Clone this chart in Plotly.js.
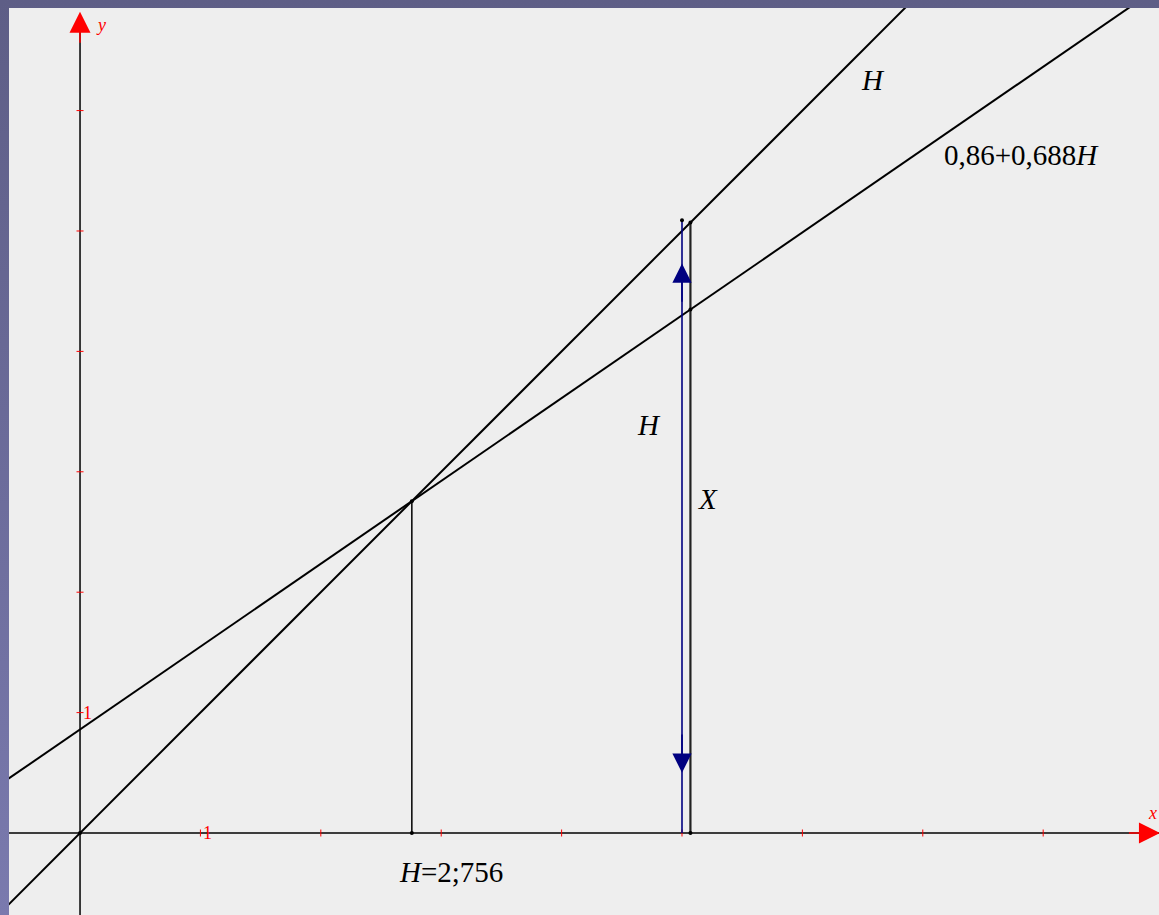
<!DOCTYPE html>
<html>
<head>
<meta charset="utf-8">
<script src="https://cdn.plot.ly/plotly-3.0.1.min.js"></script>
<style>
  html, body { margin: 0; padding: 0; }
  body {
    width: 1159px; height: 915px; overflow: hidden;
    background: linear-gradient(180deg, #5e5e86 0%, #6a6a98 45%, #7a7aae 100%);
  }
  #chart { width: 1159px; height: 915px; }
</style>
</head>
<body>
<div id="chart"></div>
<script>
// Consumption function X = a + b*H against the 45° line X = H
const intercept = 0.86;
const slope = 0.688;
const hSpan = [-0.6, 9.2];          // H values spanned by both lines
const hEquilibrium = 2.756;          // crossing point of the two lines
const hArrow = 5.0;                  // blue double arrow (income H)
const hArrowTop = 5.09;
const hX = 5.07;
const xTicks = [1, 2, 3, 4, 5, 6, 7, 8];
const yTicks = [1, 2, 3, 4, 5, 6];

const consumption = h => intercept + slope * h;

const black = '#000000';
const red = '#ff0000';
const navy = '#000080';
const serif = '"Liberation Serif", "DejaVu Serif", serif';

const traces = [
  // axes
  { x: [hSpan[0], 9.0], y: [0, 0], mode: 'lines', line: { color: black, width: 1.5 } },
  { x: [0, 0], y: [-0.7, 6.8], mode: 'lines', line: { color: black, width: 1.5 } },
  // red tick marks
  { x: xTicks, y: xTicks.map(() => 0), mode: 'markers',
    marker: { symbol: 'line-ns', size: 5, line: { color: red, width: 1 } } },
  { x: yTicks.map(() => 0), y: yTicks, mode: 'markers',
    marker: { symbol: 'line-ew', size: 5, line: { color: red, width: 1 } } },
  // 45° line
  { x: hSpan, y: hSpan, mode: 'lines', line: { color: black, width: 2 } },
  // consumption line
  { x: hSpan, y: hSpan.map(consumption), mode: 'lines', line: { color: black, width: 2 } },
  // equilibrium drop line
  { x: [hEquilibrium, hEquilibrium], y: [0, hEquilibrium], mode: 'lines+markers',
    line: { color: black, width: 1.5 }, marker: { color: black, size: 4 } },
  // income H as a blue vertical
  { x: [hArrow, hArrow], y: [0, hArrowTop], mode: 'lines',
    line: { color: navy, width: 1.6 } },
  { x: [hArrow], y: [hArrowTop], mode: 'markers', marker: { color: black, size: 4 } },
  // consumption X at that income
  { x: [hX, hX], y: [0, hX], mode: 'lines', line: { color: '#222222', width: 2.2 } },
  { x: [hX, hX, hX], y: [0, consumption(hX), hX], mode: 'markers',
    marker: { color: black, size: 4 } },
  // origin
  { x: [0], y: [0], mode: 'markers', marker: { color: black, size: 4 } }
];

function arrow(x, y, ax, ay, color, size, width) {
  return { x, y, ax, ay, xref: 'x', yref: 'y', axref: 'x', ayref: 'y',
    text: '', showarrow: true, arrowhead: 2, arrowsize: size, arrowwidth: width,
    arrowcolor: color };
}

function label(x, y, text, size, color) {
  return { x, y, xref: 'x', yref: 'y', text, showarrow: false,
    font: { family: serif, size, color } };
}

const annotations = [
  // axis arrow heads
  arrow(0, 6.82, 0, 6.55, red, 2.8, 1.5),
  arrow(8.97, 0, 8.7, 0, red, 2.8, 1.5),
  // double arrow heads on the blue vertical
  arrow(hArrow, 4.73, hArrow, 4.40, navy, 2.4, 1.6),
  arrow(hArrow, 0.50, hArrow, 0.83, navy, 2.4, 1.6),
  // axis names and unit labels
  label(0.17, 6.71, '<i>y</i>', 18, red),
  label(8.91, 0.17, '<i>x</i>', 18, red),
  label(1.06, 0.0, '1', 18, red),
  label(0.06, 1.0, '1', 18, red),
  // line and segment labels
  label(6.59, 6.25, '<i>H</i>', 29, black),
  label(7.82, 5.63, '0,86+0,688<i>H</i>', 29, black),
  label(4.73, 3.39, '<i>H</i>', 29, black),
  label(5.22, 2.77, '<i>X</i>', 29, black),
  label(3.08, -0.32, '<i>H</i>=2;756', 29, black)
];

const layout = {
  width: 1159, height: 915,
  margin: { l: 9, r: 0, t: 8, b: 0 },
  paper_bgcolor: 'rgba(0,0,0,0)',
  plot_bgcolor: '#eeeeee',
  showlegend: false,
  xaxis: { range: [-0.59, 8.962], visible: false, fixedrange: true },
  yaxis: { range: [-0.681, 6.852], visible: false, fixedrange: true },
  annotations
};

Plotly.newPlot('chart', traces, layout, { displayModeBar: false, staticPlot: true });
</script>
</body>
</html>
